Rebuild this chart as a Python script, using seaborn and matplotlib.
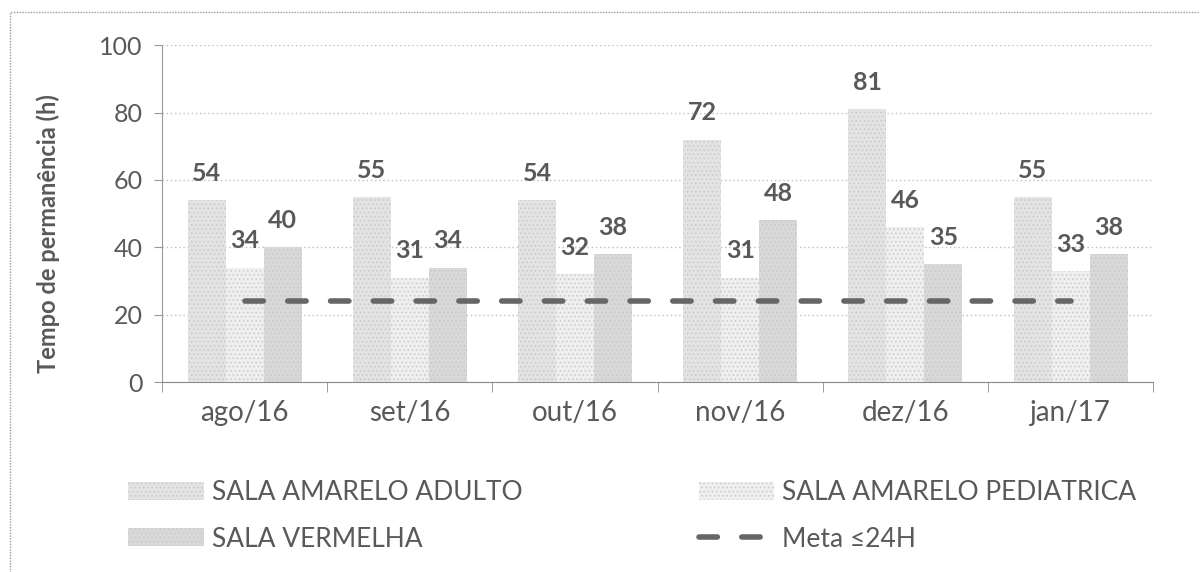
import pandas as pd
import numpy as np
import matplotlib
matplotlib.use("Agg")
import matplotlib.pyplot as plt
import seaborn as sns
from matplotlib.patches import Patch, Rectangle
from matplotlib.lines import Line2D

sns.set_style("white")
plt.rcParams["font.family"] = ["Lato", "DejaVu Sans"]
plt.rcParams["hatch.linewidth"] = 0.6

# dados
meses = ["ago/16", "set/16", "out/16", "nov/16", "dez/16", "jan/17"]
adulto = [54, 55, 54, 72, 81, 55]
pediatrica = [34, 31, 32, 31, 46, 33]
vermelha = [40, 34, 38, 48, 35, 38]
meta = [24, 24, 24, 24, 24, 24]
salas = ["SALA AMARELO ADULTO", "SALA AMARELO PEDIATRICA", "SALA VERMELHA"]

cinza = "#595959"
cores = {"SALA AMARELO ADULTO": "#e3e3e3",
         "SALA AMARELO PEDIATRICA": "#efefef",
         "SALA VERMELHA": "#d8d8d8"}

df = pd.DataFrame({
    "Mes": meses * 3,
    "Sala": [salas[0]] * 6 + [salas[1]] * 6 + [salas[2]] * 6,
    "Horas": adulto + pediatrica + vermelha,
})

fig = plt.figure(figsize=(12, 5.72), dpi=100)
ax = fig.add_axes([0.135, 0.332, 0.826, 0.589])

sns.barplot(data=df, x="Mes", y="Horas", hue="Sala", hue_order=salas,
            palette=cores, width=0.69, gap=0, saturation=1, ax=ax,
            legend=False, errorbar=None)

for cont in ax.containers:
    for b in cont:
        b.set_hatch("....")
        b.set_edgecolor("#c8c8c8")
        b.set_linewidth(0)
    ax.bar_label(cont, padding=11, fontsize=18, fontweight="bold", color=cinza)

# linha da meta
ax.plot(range(len(meses)), meta, color="#666666", lw=4,
        dashes=(3.3, 4.4), dash_capstyle="round", zorder=5)

ax.set_ylim(0, 100)
ax.set_xlim(-0.5, len(meses) - 0.5)
ax.set_yticks(range(0, 101, 20))
ax.yaxis.grid(True, linestyle=(0, (1, 2)), color="#bdbdbd", lw=1)
ax.set_axisbelow(True)

for s in ["top", "right"]:
    ax.spines[s].set_visible(False)
ax.spines["left"].set_color("#9a9a9a")
ax.spines["left"].set_linestyle((0, (1, 1)))
ax.spines["bottom"].set_color("#8a8a8a")

ax.set_xticks(np.arange(-0.5, len(meses)), minor=True)
ax.tick_params(axis="x", which="major", length=0, pad=13, labelsize=20, labelcolor=cinza)
ax.tick_params(axis="x", which="minor", length=7, color="#8a8a8a", bottom=True)
ax.tick_params(axis="y", length=6, color="#9a9a9a", left=True, pad=8, labelsize=18, labelcolor=cinza)

ax.set_xlabel("")
ax.set_ylabel("Tempo de permanência (h)", fontsize=17, fontweight="bold", color=cinza)
ax.yaxis.set_label_coords(-0.103, 0.442)

handles = [
    Patch(facecolor=cores[salas[0]], hatch="....", edgecolor="#c8c8c8", lw=0),
    Patch(facecolor=cores[salas[2]], hatch="....", edgecolor="#c8c8c8", lw=0),
    Patch(facecolor=cores[salas[1]], hatch="....", edgecolor="#c8c8c8", lw=0),
    Line2D([0], [0], color="#666666", lw=4, dashes=(3.3, 4.4), dash_capstyle="round"),
]
labels = [salas[0], salas[2], salas[1], "Meta ≤24H"]
leg = fig.legend(handles, labels, ncol=2, loc="upper left", bbox_to_anchor=(0.107, 0.16),
                 frameon=False, fontsize=19, handlelength=2.85, handleheight=0.68,
                 labelspacing=0.8, columnspacing=6.7, handletextpad=0.3,
                 borderaxespad=0, borderpad=0, labelcolor=cinza)

fig.patches.append(Rectangle((0.008, -0.01), 1.1, 0.989, transform=fig.transFigure,
                             fill=False, edgecolor="#9a9a9a", lw=1, linestyle=(0, (1, 1))))

fig.savefig("out.png", dpi=100)
